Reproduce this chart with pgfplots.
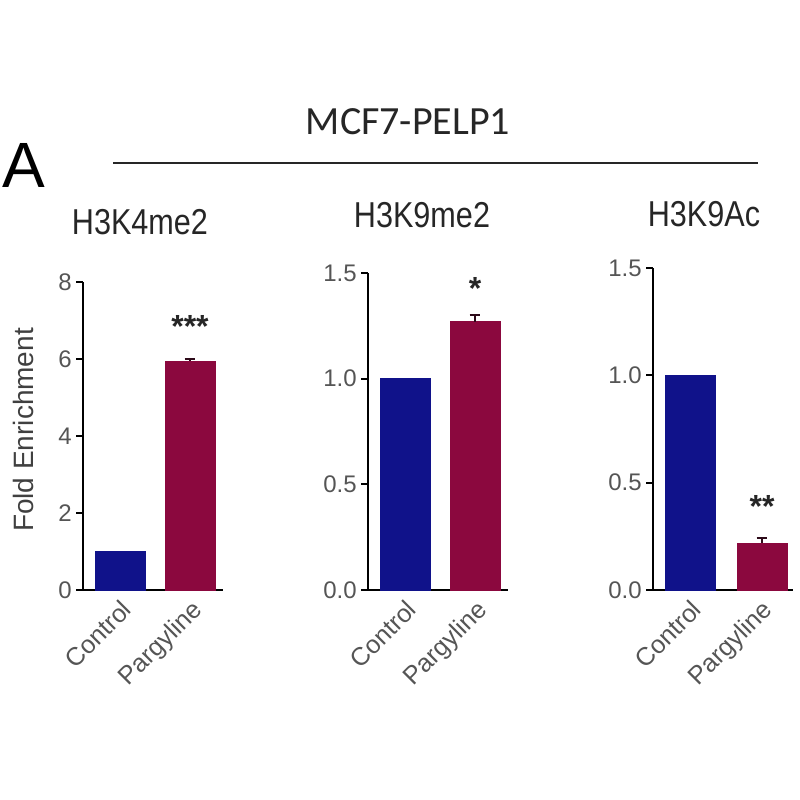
\documentclass[border=0pt]{standalone}
\usepackage{pgfplots}
\pgfplotsset{compat=1.18}
\usepackage{fontspec}
\setmainfont{Liberation Sans}
\newfontfamily\cond{Liberation Sans}[FakeStretch=0.85]
\newfontfamily\calib{Carlito}

\definecolor{ctrl}{RGB}{16,18,138}
\definecolor{parg}{RGB}{139,8,62}
\definecolor{labgray}{RGB}{85,85,85}
\definecolor{errc}{RGB}{45,10,25}

% 1 px of the reference = 0.75pt
\pgfplotsset{
  panel/.style={
    scale only axis,
    anchor=south west,
    width=105pt,
    xmin=0, xmax=140, ymin=0,
    axis x line*=bottom, axis y line*=left,
    axis line style={line width=2pt,-},
    xtick={37,107}, xticklabels={Control,Pargyline},
    x tick label style={rotate=45, anchor=north east, inner sep=1pt,
      font=\fontsize{19}{19}\selectfont, text=labgray},
    xtick style={draw=none},
    tick align=outside, major tick length=5pt,
    ytick style={line width=1.5pt, black},
    y tick label style={font=\fontsize{18}{18}\selectfont, text=labgray},
    /pgf/number format/assume math mode=true,
    ybar, bar width=50, bar shift=0pt,
    clip=false,
  },
  ctrlbar/.style={fill=ctrl, draw=ctrl},
  pargbar/.style={fill=parg, draw=parg,
    error bars/.cd, y dir=plus, y explicit,
    error bar style={line width=1.5pt, errc},
    error mark options={rotate=90, mark size=4pt, line width=1.5pt, errc}},
}
\tikzset{stars/.style={anchor=base, font=\bfseries\fontsize{24}{24}\selectfont, text=black!85}}

\begin{document}
\begin{tikzpicture}
\useasboundingbox (0pt,0pt) rectangle (600pt,-600pt);

% header
\node[anchor=west, inner sep=0pt, font=\fontsize{48}{48}\selectfont] at (1.5pt,-124pt) {A};
\node[inner sep=0pt, font=\calib\fontsize{30}{30}\selectfont, text=black!85] at (306pt,-91.5pt) {MCF7-PELP1};
\draw[line width=2.2pt, black!85] (84.75pt,-122.25pt) -- (568.5pt,-122.25pt);

\node[inner sep=0pt, font=\cond\fontsize{27}{27}\selectfont, text=black!85] at (105pt,-166.5pt) {H3K4me2};
\node[inner sep=0pt, font=\cond\fontsize{27}{27}\selectfont, text=black!85] at (316.5pt,-161.25pt) {H3K9me2};
\node[inner sep=0pt, font=\cond\fontsize{27}{27}\selectfont, text=black!85] at (528pt,-160.5pt) {H3K9Ac};

\node[rotate=90, inner sep=0pt, font=\fontsize{21}{21}\selectfont, text=black!75] at (17.25pt,-322.5pt) {Fold Enrichment};

% H3K4me2
\begin{axis}[panel, at={(62.25pt,-442.5pt)}, height=231pt,
  ymax=8, ytick={0,2,4,6,8}]
\addplot[ctrlbar] coordinates {(37,1.0)};
\addplot[pargbar] coordinates {(107,5.95) +- (0,0.04)};
\node[stars] at (axis cs:107,6.57) {***};
\end{axis}

% H3K9me2
\begin{axis}[panel, at={(276pt,-442.5pt)}, height=237.75pt,
  ymax=1.5, ytick={0,0.5,1,1.5},
  yticklabel style={/pgf/number format/.cd, fixed, fixed zerofill, precision=1}]
\addplot[ctrlbar] coordinates {(37,1.0)};
\addplot[pargbar] coordinates {(107,1.27) +- (0,0.03)};
\node[stars] at (axis cs:107,1.377) {*};
\end{axis}

% H3K9Ac
\begin{axis}[panel, at={(489.75pt,-442.5pt)}, height=241.5pt,
  ymax=1.5, ytick={0,0.5,1,1.5},
  yticklabel style={/pgf/number format/.cd, fixed, fixed zerofill, precision=1}]
\addplot[ctrlbar] coordinates {(37,1.0)};
\addplot[pargbar] coordinates {(109,0.22) +- (0,0.02)};
\node[stars] at (axis cs:109,0.34) {**};
\end{axis}
\end{tikzpicture}
\end{document}
